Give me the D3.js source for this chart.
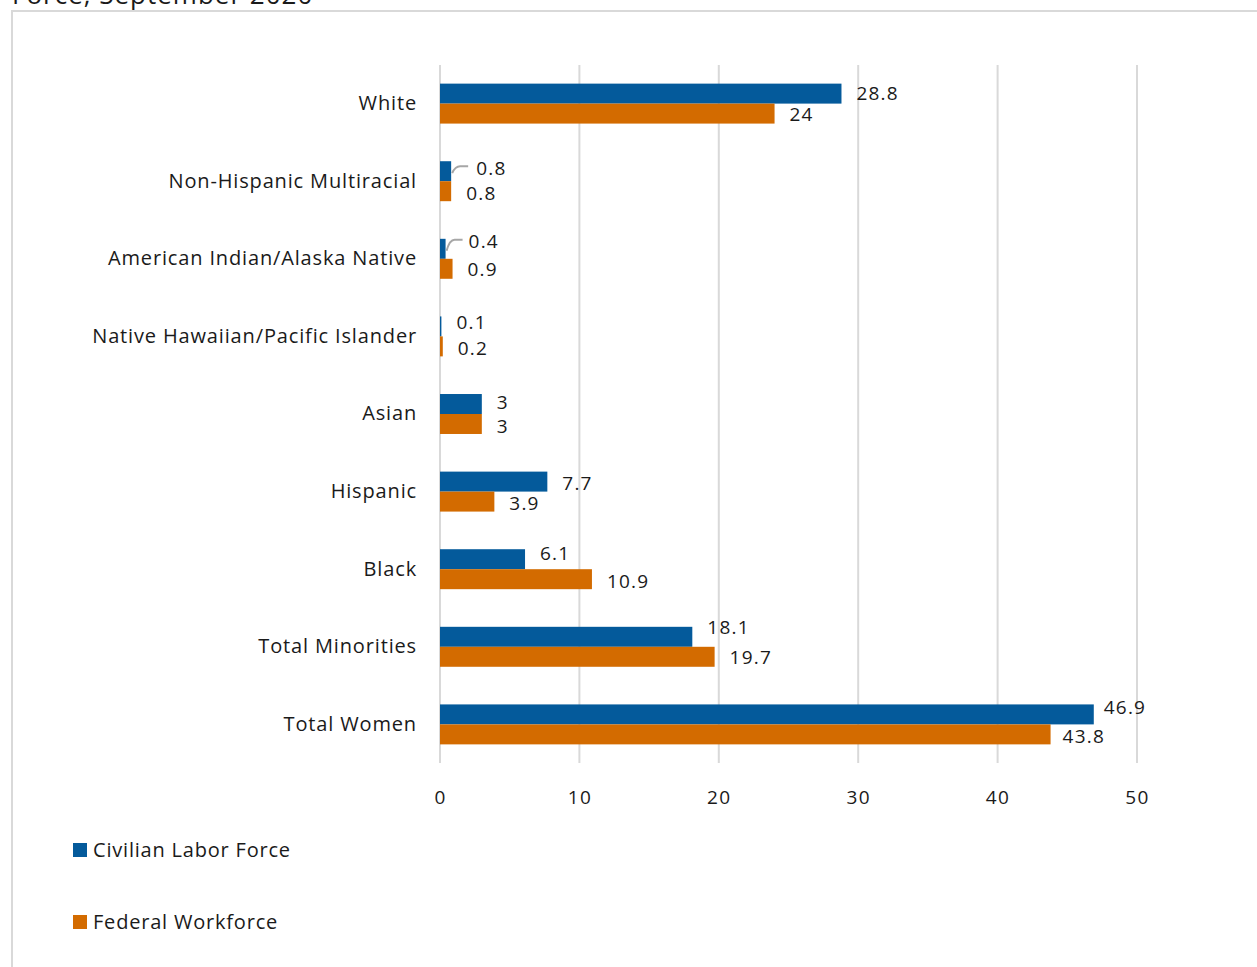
<!DOCTYPE html>
<html>
<head>
<meta charset="utf-8">
<script src="https://cdn.jsdelivr.net/npm/d3@7"></script>
<style>
  body { margin: 0; background: #fff; overflow: hidden; }
  svg text { font-family: "Open Sans", "Lato", sans-serif; fill: #1a1a1a; }
</style>
</head>
<body>
<svg id="chart" width="1257" height="967"></svg>
<script>
// categories, top to bottom
const categories = ["White", "Non-Hispanic Multiracial", "American Indian/Alaska Native",
  "Native Hawaiian/Pacific Islander", "Asian", "Hispanic", "Black", "Total Minorities", "Total Women"];
const seriesNames = ["Civilian Labor Force", "Federal Workforce"];
const civilian = [28.8, 0.8, 0.4, 0.1, 3, 7.7, 6.1, 18.1, 46.9];
const federal = [24, 0.8, 0.9, 0.2, 3, 3.9, 10.9, 19.7, 43.8];
const xTicks = [0, 10, 20, 30, 40, 50];
const COLORS = ["#045a9b", "#d36b00"];

// label nudges (dx, dy) for the data labels, per series
const civNudge = [[0,0],[10,-3],[8,-7],[0,-4],[0,-2],[0,2],[0,-6],[0,-9],[-5,-7]];
const fedNudge = [[0,1],[0,2],[0,1],[0,2],[0,2],[0,2],[0,2],[0,1],[-3,2]];
// labels drawn with a leader line
const leader = [false, true, true, false, false, false, false, false, false];

const svg = d3.select("#chart");

function set_size(sel, w, h){ return sel.attr("width", w).attr("height", h); }

// outer frame and the clipped title
svg.append("rect").attr("x", 12).attr("y", 11)
  .call(set_size, 1260, 980)
  .attr("fill", "none").attr("stroke", "#d9d9d9").attr("stroke-width", 2);
svg.append("text").attr("x", 12).attr("y", 4)
  .style("font-size", "26px").style("letter-spacing", "1px").text("Force, September 2020");

const M = {left: 440, top: 65, right: 1137, bottom: 763};

const x = d3.scaleLinear().domain([0, 50]).range([M.left, M.right]);
const y = d3.scaleBand().domain(categories).range([M.top, M.bottom]).paddingInner(0.485).paddingOuter(0.24);
const sub = d3.scaleBand().domain(seriesNames).range([0, y.bandwidth()]);

// gridlines
svg.append("g").selectAll("line").data(xTicks).join("line")
  .attr("x1", d => x(d)).attr("x2", d => x(d))
  .attr("y1", M.top).attr("y2", M.bottom)
  .attr("stroke", "#d9d9d9").attr("stroke-width", 2);

// x axis labels
const xAxis = svg.append("g").attr("transform", "translate(0," + 797 + ")")
  .call(d3.axisBottom(x).tickValues(xTicks).tickSize(0).tickPadding(0));
xAxis.select(".domain").remove();
xAxis.selectAll("text").style("font-size", "19px").style("letter-spacing", "1.4px").attr("dy", "0.35em")
  .style("font-family", "'Open Sans', sans-serif").attr("fill", "#1a1a1a");

// category labels
const yAxis = svg.append("g").attr("transform", "translate(" + (M.left - 23) + ",0)")
  .call(d3.axisLeft(y).tickSize(0).tickPadding(0));
yAxis.select(".domain").remove();
yAxis.selectAll("text").style("font-size", "20px").style("letter-spacing", "0.85px")
  .style("font-family", "'Open Sans', sans-serif").attr("fill", "#1a1a1a");

const rows = categories.map((c, i) => ({
  cat: c,
  vals: [
    {s: seriesNames[0], v: civilian[i], n: civNudge[i], lead: leader[i], k: 0},
    {s: seriesNames[1], v: federal[i], n: fedNudge[i], lead: false, k: 1}
  ]
}));

const groups = svg.append("g").selectAll("g").data(rows).join("g")
  .attr("transform", d => "translate(0," + y(d.cat) + ")");

groups.selectAll("rect").data(d => d.vals).join("rect")
  .attr("x", x(0))
  .attr("y", d => sub(d.s))
  .attr("width", d => x(d.v) - x(0))
  .attr("height", sub.bandwidth())
  .attr("fill", d => COLORS[d.k]);

// leader lines for crowded labels
groups.selectAll("path.leader").data(d => d.vals.filter(v => v.lead)).join("path")
  .attr("class", "leader")
  .attr("d", d => {
    const x0 = x(d.v) + 1, yc = sub(d.s) + sub.bandwidth() / 2;
    const yl = yc + d.n[1] - 2;
    return "M" + x0 + "," + (yc + 2) + "Q" + (x0 + 3) + "," + yl + " " + (x0 + 8) + "," + yl + "L" + (x0 + 16) + "," + yl;
  })
  .attr("fill", "none").attr("stroke", "#a6a6a6").attr("stroke-width", 2);

groups.selectAll("text.val").data(d => d.vals).join("text")
  .attr("class", "val")
  .attr("x", d => x(d.v) + 15 + d.n[0])
  .attr("y", d => sub(d.s) + sub.bandwidth() / 2 + d.n[1])
  .attr("dy", "0.35em")
  .style("font-size", "19px").style("letter-spacing", "1.2px")
  .text(d => d.v);

// legend
const legend = svg.append("g").selectAll("g").data(seriesNames).join("g")
  .attr("transform", (d, i) => "translate(73," + (850 + i * 72) + ")");
legend.append("rect").attr("y", -7).call(set_size, 14, 14).attr("fill", (d, i) => COLORS[i]);
legend.append("text").attr("x", 20).attr("dy", "0.35em")
  .style("font-size", "20px").style("letter-spacing", "0.8px").text(d => d);
</script>
</body>
</html>
